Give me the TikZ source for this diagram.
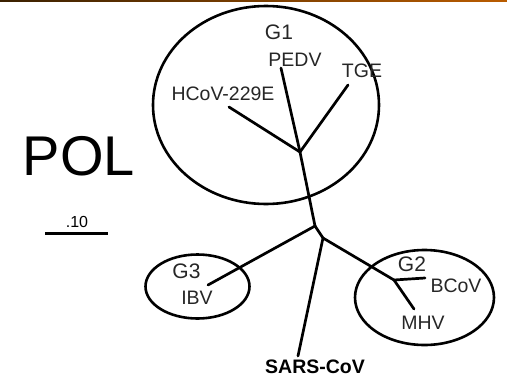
\documentclass[tikz,border=0pt]{standalone}
\usepackage{fontspec}
\setmainfont{Liberation Sans}
\begin{document}
\begin{tikzpicture}[x=1pt,y=-1pt,
  branch/.style={line width=2.7pt, line cap=round},
  group/.style={draw, line width=2.6pt},
  leaf/.style={inner sep=0pt, text=black!85, font=\fontsize{19.5}{21}\selectfont},
  glabel/.style={inner sep=0pt, text=black!85, font=\fontsize{21}{23}\selectfont}]
\useasboundingbox (0,0) rectangle (507,381);
% thin rule along the top edge
\shade[left color={rgb,255:red,58;green,32;blue,0}, right color={rgb,255:red,186;green,92;blue,0}]
  (0,0) rectangle (507,1.8);

% cluster outlines
\draw[group] (266,105) ellipse [x radius=113, y radius=99];
\draw[group] (197.5,286.5) ellipse [x radius=52, y radius=32];
\draw[group] (424.5,297.5) ellipse [x radius=69.5, y radius=47.5];

% tree nodes and tips
\coordinate (n1) at (300,152);
\coordinate (r) at (315,226);
\coordinate (n2) at (323,238);
\coordinate (n3) at (394,280);
\coordinate (hcov) at (229,107);
\coordinate (pedv) at (281,68);
\coordinate (tge) at (348,85);
\coordinate (ibv) at (208,285);
\coordinate (sars) at (298,356);
\coordinate (bcov) at (425,278);
\coordinate (mhv) at (414,309);

\draw[branch] (hcov) -- (n1);
\draw[branch] (pedv) -- (n1);
\draw[branch] (tge) -- (n1);
\draw[branch] (n1) -- (r);
\draw[branch] (r) -- (ibv);
\draw[branch] (r) -- (n2);
\draw[branch] (n2) -- (sars);
\draw[branch] (n2) -- (n3);
\draw[branch] (n3) -- (bcov);
\draw[branch] (n3) -- (mhv);

% labels
\node[glabel] (g1) at (279,32.5) {G1};
\node[leaf] (lpedv) at (295,59.5) {PEDV};
\node[leaf] (ltge) at (362,71) {TGE};
\node[leaf] (lhcov) at (223,93.5) {HCoV-229E};
\node[glabel] (g3) at (186.5,271) {G3};
\node[leaf] (libv) at (197,298) {IBV};
\node[glabel] (g2) at (412,264) {G2};
\node[leaf] (lbcov) at (456,285.5) {BCoV};
\node[leaf] (lmhv) at (423,323) {MHV};
\node[leaf, font=\fontsize{19.5}{21}\selectfont\bfseries, text=black] (lsars) at (315,367) {SARS-CoV};
\node[inner sep=0pt, font=\fontsize{56}{60}\selectfont] (pol) at (79,156) {POL};
\node[inner sep=0pt, font=\fontsize{16}{18}\selectfont] (scale) at (77,221.5) {.10};
% scale bar
\coordinate (sb1) at (45,233.5);
\coordinate (sb2) at (108,233.5);
\draw[line width=2.6pt] (sb1) -- (sb2);
\end{tikzpicture}
\end{document}
